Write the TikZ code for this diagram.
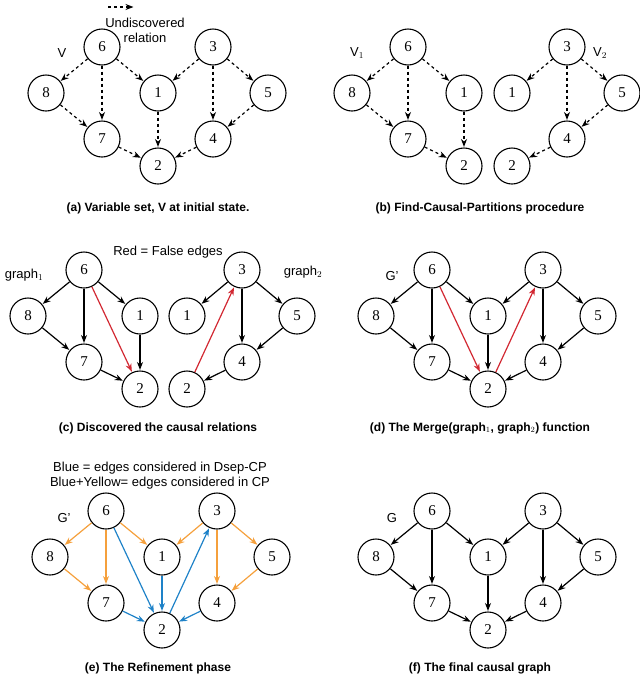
\documentclass[tikz,border=0pt]{standalone}
\usepackage{fontspec}
\setmainfont{Liberation Sans}
\newfontfamily\numfont{Liberation Serif}
\usetikzlibrary{arrows.meta}
\definecolor{falsered}{RGB}{210,40,50}
\definecolor{edgeorange}{RGB}{245,160,60}
\definecolor{edgeblue}{RGB}{30,130,200}
\tikzset{
 v/.style={circle,draw,line width=1.1pt,minimum size=36pt,inner sep=0pt,font=\numfont\fontsize{15}{15}\selectfont},
 e/.style={-{Stealth[length=8pt,width=6pt]},line width=1.2pt,shorten >=0.5pt},
 und/.style={e,dashed},
 redE/.style={e,draw=falsered},
 orgE/.style={e,draw=edgeorange},
 bluE/.style={e,draw=edgeblue},
 lbl/.style={font=\fontsize{13}{15}\selectfont},
 captxt/.style={font=\bfseries\fontsize{12}{14}\selectfont}
}
\newcommand{\mynodes}[1]{%
 \node[v] (#1six) at (106,511) {6};
 \node[v] (#1eight) at (50,557) {8};
 \node[v] (#1seven) at (106,603) {7};
 \node[v] (#1one) at (162,557) {1};
 \node[v] (#1two) at (162,630) {2};
 \node[v] (#1three) at (217,511) {3};
 \node[v] (#1five) at (272,557) {5};
 \node[v] (#1four) at (217,603) {4};
}
\begin{document}
\begin{tikzpicture}[x=1pt,y=-1pt]
\useasboundingbox (0,0) rectangle (640,681);
% (a)
\begin{scope}[shift={(-4,-464)}]
\mynodes{a}
\foreach \s/\t in {six/eight,six/seven,six/one,eight/seven,seven/two,one/two,three/one,three/four,three/five,five/four,four/two}
 \draw[und] (a\s) -- (a\t);
\end{scope}
\node[lbl] (lV) at (62,53) {V};
\coordinate (ls) at (108,7); \coordinate (le) at (134,7);
\draw[und] (ls) -- (le);
\node[lbl,align=center] (lund) at (145,30) {Undiscovered\\relation};
\node[captxt] (capa) at (158,208) {(a) Variable set, V at initial state.};
% (b)
\begin{scope}[shift={(302,-464)}]
\node[v] (bsix) at (106,511) {6};
\node[v] (beight) at (50,557) {8};
\node[v] (bseven) at (106,603) {7};
\node[v] (bone) at (162,557) {1};
\node[v] (btwo) at (162,630) {2};
\end{scope}
\begin{scope}[shift={(350,-464)}]
\node[v] (bthree) at (217,511) {3};
\node[v] (bfive) at (272,557) {5};
\node[v] (bfour) at (217,603) {4};
\node[v] (bonetwo) at (162,557) {1};
\node[v] (btwotwo) at (162,630) {2};
\end{scope}
\foreach \s/\t in {six/eight,six/seven,six/one,eight/seven,seven/two,one/two,three/onetwo,three/four,three/five,five/four,four/twotwo}
 \draw[und] (b\s) -- (b\t);
\node[lbl] (lV1) at (357,53) {V$_1$};
\node[lbl] (lV2) at (600,53) {V$_2$};
\node[captxt] (capb) at (480,208) {(b) Find-Causal-Partitions procedure};
% (c)
\begin{scope}[shift={(-22,-241)}]
\node[v] (csix) at (106,511) {6};
\node[v] (ceight) at (50,557) {8};
\node[v] (cseven) at (106,603) {7};
\node[v] (cone) at (162,557) {1};
\node[v] (ctwo) at (162,630) {2};
\end{scope}
\begin{scope}[shift={(25,-241)}]
\node[v] (cthree) at (217,511) {3};
\node[v] (cfive) at (272,557) {5};
\node[v] (cfour) at (217,603) {4};
\node[v] (conetwo) at (162,557) {1};
\node[v] (ctwotwo) at (162,630) {2};
\end{scope}
\foreach \s/\t in {six/eight,six/seven,six/one,eight/seven,seven/two,one/two,three/onetwo,three/four,three/five,five/four,four/twotwo}
 \draw[e] (c\s) -- (c\t);
\draw[redE] (csix) -- (ctwo);
\draw[redE] (ctwotwo) -- (cthree);
\node[lbl] (lg1) at (24,275) {graph$_1$};
\node[lbl] (lg2) at (303,272) {graph$_2$};
\node[lbl] (lred) at (168,252) {Red = False edges};
\node[captxt] (capc) at (158,428) {(c) Discovered the causal relations};
% (d)
\begin{scope}[shift={(326,-241)}]
\mynodes{d}
\foreach \s/\t in {six/eight,six/seven,six/one,eight/seven,seven/two,one/two,three/one,three/four,three/five,five/four,four/two}
 \draw[e] (d\s) -- (d\t);
\draw[redE] (dsix) -- (dtwo);
\draw[redE] (dtwo) -- (dthree);
\end{scope}
\node[lbl] (lGd) at (392,276) {G'};
\node[captxt] (capd) at (480,428) {(d) The Merge(graph$_1$, graph$_2$) function};
% (e)
\mynodes{e}
\foreach \s/\t in {six/eight,six/seven,six/one,eight/seven,three/one,three/four,three/five,five/four}
 \draw[orgE] (e\s) -- (e\t);
\foreach \s/\t in {six/two,seven/two,one/two,four/two,two/three}
 \draw[bluE] (e\s) -- (e\t);
\node[lbl] (lGe) at (64,518) {G'};
\node[lbl,align=center] (lblue) at (160,476) {Blue = edges considered in Dsep-CP\\Blue+Yellow= edges considered in CP};
\node[captxt] (cape) at (158,668) {(e) The Refinement phase};
% (f)
\begin{scope}[shift={(326,0)}]
\mynodes{f}
\foreach \s/\t in {six/eight,six/seven,six/one,eight/seven,seven/two,one/two,three/one,three/four,three/five,five/four,four/two}
 \draw[e] (f\s) -- (f\t);
\end{scope}
\node[lbl] (lGf) at (392,518) {G};
\node[captxt] (capf) at (480,668) {(f) The final causal graph};
\end{tikzpicture}
\end{document}
